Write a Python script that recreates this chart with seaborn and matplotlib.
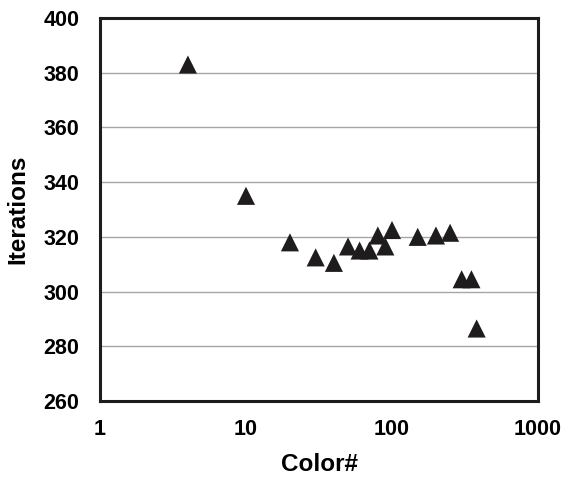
import matplotlib
matplotlib.use("Agg")
import matplotlib.pyplot as plt
import seaborn as sns
import pandas as pd
from matplotlib.ticker import NullFormatter, LogLocator, MultipleLocator

colors = [4, 10, 20, 30, 40, 50, 60, 70, 80, 90, 100, 150, 200, 250, 300, 350, 380]
iterations = [383, 335, 318, 312.5, 310.5, 316.5, 315, 315, 320.5, 316.5, 322.5, 320, 320.5, 321.5, 304.5, 304.5, 286.5]
x_ticks = [1, 10, 100, 1000]
x_tick_labels = ["1", "10", "100", "1000"]
y_ticks = [260, 280, 300, 320, 340, 360, 380, 400]

sns.set_theme(style="white")
plt.rcParams['font.family'] = ['Liberation Sans', 'DejaVu Sans']

df = pd.DataFrame({"Color#": colors, "Iterations": iterations})

fig = plt.figure(figsize=(5.63, 4.79), dpi=100)
ax = fig.add_axes([100/563, 1 - 401/479, 438/563, 383/479])

ax.set_xscale("log")
ax.set_xlim(1, 1000)
ax.set_ylim(260, 400)

for yv in y_ticks[1:-1]:
    ax.axhline(yv, color="#a6a6a6", lw=1.0, zorder=1)

sns.scatterplot(data=df, x="Color#", y="Iterations", ax=ax, marker="^",
                s=170, color="#1e1c1d", edgecolor="none", zorder=3, legend=False)

ax.set_xticks(x_ticks)
ax.set_xticklabels(x_tick_labels)
ax.xaxis.set_minor_locator(LogLocator(base=10, subs=range(2, 10)))
ax.xaxis.set_minor_formatter(NullFormatter())
ax.set_yticks(y_ticks)
ax.yaxis.set_minor_locator(MultipleLocator(5))

ax.tick_params(axis="both", which="both", direction="in", length=3, width=2, color="#1e1c1d")
ax.tick_params(axis="x", which="major", pad=13, labelsize=15.5, labelcolor="black")
ax.tick_params(axis="y", which="major", pad=15, labelsize=15.5, labelcolor="black")
for lab in ax.get_xticklabels() + ax.get_yticklabels():
    lab.set_fontweight("bold")

for sp in ax.spines.values():
    sp.set_linewidth(2.2)
    sp.set_color("#1e1c1d")
    sp.set_visible(True)

ax.set_xlabel("Color#", fontsize=17.5, fontweight="bold", labelpad=9, color="black")
ax.set_ylabel("Iterations", fontsize=17.5, fontweight="bold", labelpad=10, color="black")

fig.savefig("out.png", dpi=100)
